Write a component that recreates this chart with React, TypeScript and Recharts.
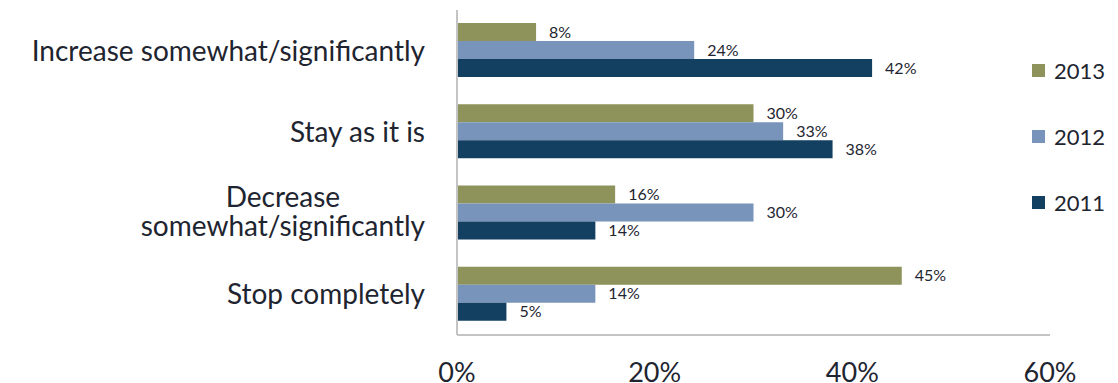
import React from 'react';
import { BarChart, Bar, XAxis, YAxis, Legend, LabelList } from 'recharts';

const categories = [
  'Increase somewhat/significantly',
  'Stay as it is',
  'Decrease\nsomewhat/significantly',
  'Stop completely',
];
const values2013 = [8, 30, 16, 45];
const values2012 = [24, 33, 30, 14];
const values2011 = [42, 38, 14, 5];
const xTicks = [0, 20, 40, 60];
const seriesNames = ['2013', '2012', '2011'];
const seriesColors = ['#8E925B', '#7894BA', '#133F60'];

const data = categories.map((c, i) => ({
  category: c,
  '2013': values2013[i],
  '2012': values2012[i],
  '2011': values2011[i],
}));

const FONT = 'Lato, "Open Sans", sans-serif';
const CAT_SIZE = 28;
const TEXT_COLOR = '#1e2530';

let measureCtx: CanvasRenderingContext2D | null = null;
function measure(text: string, size: number): number {
  if (!measureCtx) {
    const c = document.createElement('canvas');
    measureCtx = c.getContext('2d');
  }
  if (!measureCtx) return text.length * size * 0.5;
  measureCtx.font = `${size}px Lato`;
  return measureCtx.measureText(text).width;
}

const CategoryTick = (props: any) => {
  const { x, y, payload } = props;
  const lines: string[] = String(payload.value).split('\n');
  if (lines.length === 1) {
    return (
      <text x={x} y={y + 10} textAnchor="end" fontFamily={FONT} fontSize={CAT_SIZE} fill={TEXT_COLOR}>
        {lines[0]}
      </text>
    );
  }
  const maxW = Math.max(...lines.map((l) => measure(l, CAT_SIZE)));
  const cx = x - maxW / 2;
  const offsets = [-6, 23];
  return (
    <text textAnchor="middle" fontFamily={FONT} fontSize={CAT_SIZE} fill={TEXT_COLOR}>
      {lines.map((l, i) => (
        <tspan key={i} x={cx} y={y + offsets[i]}>
          {l}
        </tspan>
      ))}
    </text>
  );
};

const LegendContent = (props: any) => {
  const payload = [...(props.payload || [])].sort(
    (a: any, b: any) => seriesNames.indexOf(String(a.value)) - seriesNames.indexOf(String(b.value))
  );
  return (
    <div style={{ display: 'flex', flexDirection: 'column' }}>
      {payload.map((p: any, i: number) => (
        <div key={i} style={{ display: 'flex', alignItems: 'center', height: 66 }}>
          <span style={{ display: 'inline-block', width: 13, height: 13, background: p.color, marginRight: 9 }} />
          <span style={{ fontFamily: FONT, fontSize: 22, color: TEXT_COLOR }}>{p.value}</span>
        </div>
      ))}
    </div>
  );
};

export default function App() {
  return (
    <div style={{ position: 'absolute', left: 0, top: 0, width: 1118, height: 383, background: '#fff' }}>
      <BarChart
        width={1118}
        height={383}
        data={data}
        layout="vertical"
        margin={{ top: 10, right: 68, bottom: 0, left: 0 }}
        barCategoryGap="16%"
        barGap={0}
      >
        <XAxis
          type="number"
          domain={[0, 60]}
          ticks={xTicks}
          tickFormatter={(v: number) => `${v}%`}
          axisLine={{ stroke: '#c4c4c4', strokeWidth: 2 }}
          tickLine={false}
          tickSize={0}
          tickMargin={28}
          height={48}
          tick={{ fontFamily: FONT, fontSize: 27, fill: TEXT_COLOR }}
        />
        <YAxis
          type="category"
          dataKey="category"
          width={457}
          axisLine={{ stroke: '#c4c4c4', strokeWidth: 2 }}
          tickLine={false}
          tickSize={0}
          tickMargin={32}
          tick={<CategoryTick />}
          interval={0}
        />
        <Legend
          layout="horizontal"
          align="center"
          verticalAlign="middle"
          content={<LegendContent />}
          wrapperStyle={{ left: 1032, top: 37, width: 90 }}
        />
        {seriesNames.map((s, i) => (
          <Bar key={s} dataKey={s} name={s} fill={seriesColors[i]} isAnimationActive={false}>
            <LabelList
              dataKey={s}
              position="right"
              offset={13}
              formatter={(v: any) => `${v}%`}
              style={{ fontFamily: FONT, fontSize: 16, fill: TEXT_COLOR }}
            />
          </Bar>
        ))}
      </BarChart>
    </div>
  );
}
